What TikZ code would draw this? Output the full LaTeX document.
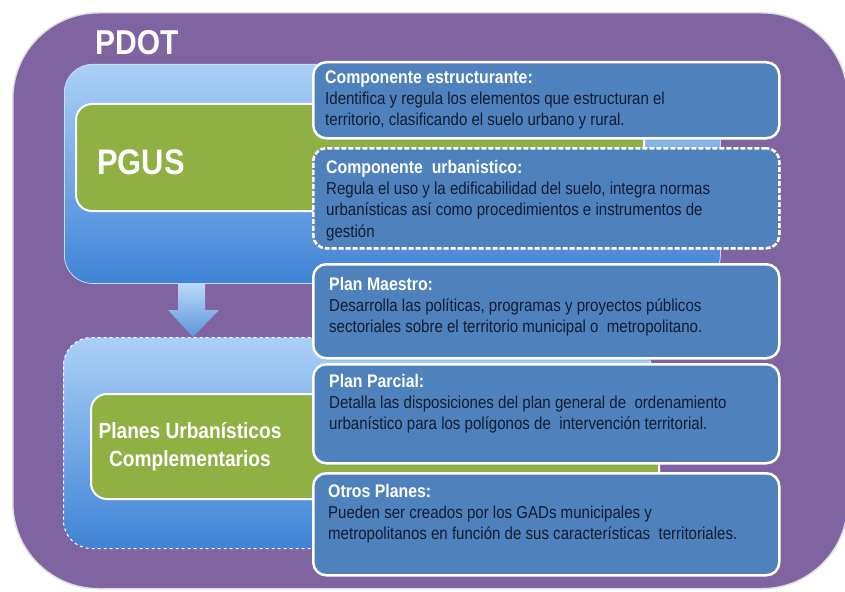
\documentclass[tikz,border=0pt]{standalone}
\usepackage{fontspec}
\setmainfont{Liberation Sans}[FakeStretch=0.87]
\usetikzlibrary{shadows,calc}
\definecolor{pdotpurple}{HTML}{8064A2}
\definecolor{boxblue}{HTML}{4F81BD}
\definecolor{lightblue}{HTML}{ABD0F7}
\definecolor{midblue}{HTML}{3E83D5}
\definecolor{leafgreen}{HTML}{8FB043}
\definecolor{bodyink}{HTML}{111D33}
\newcommand\boxttl[1]{{\fontsize{18.2}{21.3}\selectfont\bfseries\color{white}#1}\strut}
\tikzset{
  panel/.style={anchor=north west, inner sep=0pt, rounded corners=28pt, top color=lightblue, bottom color=midblue},
  greenbox/.style={anchor=north west, inner sep=0pt, rounded corners=16pt, fill=leafgreen, draw=white, line width=2pt},
  rbox/.style={anchor=north west, inner sep=0pt, minimum width=466pt, rounded corners=13pt, fill=boxblue, draw=white, line width=2.5pt,
    drop shadow={shadow xshift=1.5pt, shadow yshift=-2pt, opacity=0.35}},
  rtext/.style={anchor=north west, inner sep=0pt, align=left, text=bodyink, font=\fontsize{17.3}{21.3}\selectfont},
  bigtitle/.style={anchor=base west, inner sep=0pt, text=white, font=\bfseries\fontsize{34.5}{40}\selectfont},
}
\begin{document}
\begin{tikzpicture}[x=1pt,y=-1pt]
\useasboundingbox (0,0) rectangle (845,591);
\fill[white] (0,0) rectangle (845,591);
% purple background
\node[anchor=north west, inner sep=0pt, minimum width=835pt, minimum height=576pt, rounded corners=86pt,
      fill=pdotpurple, draw=gray!25, line width=1.5pt] (pdotbg) at (12,12) {};
\node[bigtitle] (pdot) at (95,55) {PDOT};
% top panel (PGUS)
\node[panel, minimum width=656pt, minimum height=219pt, draw=lightblue!70!white, line width=0.8pt] (toppanel) at (64,64) {};
\node[greenbox, minimum width=568pt, minimum height=107pt] (pgusbox) at (75,103) {};
\node[bigtitle, font=\bfseries\fontsize{35.5}{40}\selectfont] (pgus) at (97,174) {PGUS};
% block arrow
\path[top color=lightblue!80!white, bottom color=midblue!85!white]
  (178,283) -- (205,283) -- (205,310) -- (219,310) -- (193,337) -- (168,310) -- (178,310) -- cycle;
% bottom panel (dashed)
\node[panel, minimum width=587pt, minimum height=211pt, draw=white, dashed, line width=1pt] (botpanel) at (63,337) {};
\node[greenbox, minimum width=568pt, minimum height=105pt] (pucbox) at (90,393) {};
\node[inner sep=0pt, align=center, text=white, font=\bfseries\fontsize{22}{28}\selectfont] (puc) at (190,447) {Planes Urbanísticos\\Complementarios};
% right boxes
\node[rbox, minimum height=76pt] (b1) at (312,61) {};
\node[rbox, minimum height=100pt, draw=white, dash pattern=on 5pt off 2pt,
      preaction={draw=gray!45, line width=2.5pt, rounded corners=13pt}] (b2) at (312,147) {};
\node[rbox, minimum height=94pt] (b3) at (312,263) {};
\node[rbox, minimum height=99pt] (b4) at (312,363) {};
\node[rbox, minimum height=102pt] (b5) at (312,472) {};
\node[rtext] (t1) at (325,83-14.9) {\boxttl{Componente estructurante:}\\
  Identifica y regula los elementos que estructuran el\\
  territorio, clasificando el suelo urbano y rural.};
\node[rtext] (t2) at (326,173-14.9) {\boxttl{Componente\ \ urbanistico:}\\
  Regula el uso y la edificabilidad del suelo, integra normas\\
  urbanísticas así como procedimientos e instrumentos de\\
  gestión};
\node[rtext] (t3) at (329,290-14.9) {\boxttl{Plan Maestro:}\\
  Desarrolla las políticas, programas y proyectos públicos\\
  sectoriales sobre el territorio municipal o\ \ metropolitano.};
\node[rtext] (t4) at (329,387-14.9) {\boxttl{Plan Parcial:}\\
  Detalla las disposiciones del plan general de\ \ ordenamiento\\
  urbanístico para los polígonos de\ \ intervención territorial.};
\node[rtext] (t5) at (328,497-14.9) {\boxttl{Otros Planes:}\\
  Pueden ser creados por los GADs municipales y\\
  metropolitanos en función de sus características\ \ territoriales.};
\end{tikzpicture}
\end{document}
